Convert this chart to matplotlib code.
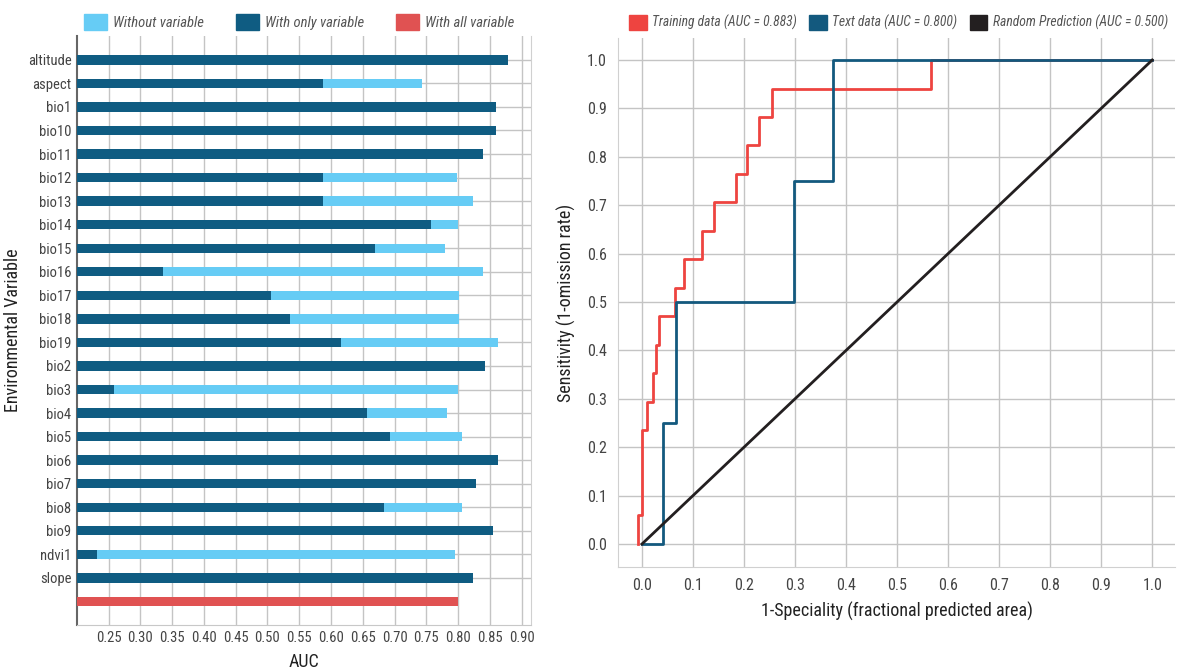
import matplotlib
matplotlib.use('Agg')
import matplotlib.pyplot as plt
from matplotlib import font_manager
from matplotlib.patches import Patch
import numpy as np

# pick a narrow font if there is one
names = set(f.name for f in font_manager.fontManager.ttflist)
family = 'DejaVu Sans'
for cand in ['Liberation Sans Narrow', 'Roboto Condensed', 'Open Sans Condensed', 'DejaVu Sans Condensed']:
    if cand in names:
        family = cand
        break
plt.rcParams['font.family'] = [family, 'DejaVu Sans']

# ---- left panel data (jackknife AUC) ----
variables = ['altitude', 'aspect', 'bio1', 'bio10', 'bio11', 'bio12', 'bio13', 'bio14',
             'bio15', 'bio16', 'bio17', 'bio18', 'bio19', 'bio2', 'bio3', 'bio4', 'bio5',
             'bio6', 'bio7', 'bio8', 'bio9', 'ndvi1', 'slope']
with_only = [0.878, 0.587, 0.859, 0.860, 0.839, 0.587, 0.587, 0.757,
             0.669, 0.335, 0.505, 0.535, 0.615, 0.843, 0.259, 0.656, 0.693,
             0.863, 0.828, 0.683, 0.855, 0.232, 0.824]
# values for altitude, bio1, bio10, bio11, bio2, bio6, bio7, bio9, slope are hidden behind the dark bars
without_var = [0.800, 0.743, 0.800, 0.800, 0.800, 0.798, 0.824, 0.800,
               0.779, 0.839, 0.801, 0.801, 0.863, 0.800, 0.800, 0.783, 0.806,
               0.800, 0.800, 0.806, 0.800, 0.795, 0.800]
all_var = 0.800

# ---- right panel data (ROC curves) ----
train_fpr = [-0.007, -0.007, 0.0, 0.0, 0.0105, 0.0105, 0.022, 0.022, 0.027, 0.027, 0.033, 0.033,
             0.065, 0.065, 0.083, 0.083, 0.118, 0.118, 0.141, 0.141, 0.185, 0.185, 0.206, 0.206,
             0.229, 0.229, 0.255, 0.255, 0.566, 0.566, 1.0]
train_tpr = [0.0, 0.059, 0.059, 0.235, 0.235, 0.294, 0.294, 0.353, 0.353, 0.412, 0.412, 0.471,
             0.471, 0.529, 0.529, 0.588, 0.588, 0.647, 0.647, 0.706, 0.706, 0.765, 0.765, 0.824,
             0.824, 0.882, 0.882, 0.941, 0.941, 1.0, 1.0]
test_fpr = [0.0, 0.041, 0.041, 0.067, 0.067, 0.297, 0.297, 0.375, 0.375, 1.0]
test_tpr = [0.0, 0.0, 0.25, 0.25, 0.5, 0.5, 0.75, 0.75, 1.0, 1.0]
rand_fpr = [0.0, 1.0]
rand_tpr = [0.0, 1.0]

c_light = '#66ccf5'
c_dark = '#0f5c82'
c_red = '#e05252'
c_train = '#ee4440'
c_test = '#13597e'
c_rand = '#231f20'
txt = '#444444'
grid_c = '#c4c4c4'

fig = plt.figure(figsize=(11.78, 6.71), dpi=100)

# left panel
ax = fig.add_axes([0.0654, 0.0686, 0.385, 0.878])
y = np.arange(len(variables))
ax.barh(y, without_var, height=0.4, color=c_light, zorder=2)
ax.barh(y, with_only, height=0.4, color=c_dark, zorder=3)
ax.barh([len(variables)], [all_var], height=0.4, color=c_red, zorder=3)
ax.set_xlim(0.2005, 0.914)
ax.set_ylim(24.0, -1.02)
ax.set_xticks(np.arange(0.25, 0.901, 0.05))
ax.set_xticklabels(['%.2f' % v for v in np.arange(0.25, 0.901, 0.05)])
ax.set_yticks(y)
ax.set_yticklabels(variables)
ax.grid(True, color=grid_c, lw=1, zorder=0)
ax.tick_params(length=0, labelsize=10.5, colors=txt, pad=4)
ax.spines['top'].set_visible(False)
ax.spines['right'].set_color('#d0d0d0')
ax.spines['bottom'].set_color('#c8c8c8')
ax.spines['left'].set_color('#666666')
ax.spines['left'].set_linewidth(1.5)
ax.set_xlabel('AUC', fontsize=13, color='#222222', labelpad=6)
ax.set_ylabel('Environmental Variable', fontsize=13, color='#222222', labelpad=4)
handles = [Patch(color=c_light, label='Without variable'),
           Patch(color=c_dark, label='With only variable'),
           Patch(color=c_red, label='With all variable')]
leg = ax.legend(handles=handles, ncol=3, loc='lower left', bbox_to_anchor=(-0.005, 0.995),
                frameon=False, fontsize=10.5, handlelength=1.6, handleheight=1.3,
                columnspacing=2.2, handletextpad=0.4, borderaxespad=0.2)
for t in leg.get_texts():
    t.set_fontstyle('italic')
    t.set_color('#555555')

# right panel
ax2 = fig.add_axes([0.5246, 0.155, 0.473, 0.788])
ax2.plot(train_fpr, train_tpr, color=c_train, lw=2.0, zorder=3)
ax2.plot(test_fpr, test_tpr, color=c_test, lw=2.0, zorder=3)
ax2.plot(rand_fpr, rand_tpr, color=c_rand, lw=2.0, zorder=4)
ax2.set_xlim(-0.047, 1.045)
ax2.set_ylim(-0.0475, 1.045)
ticks = np.arange(0, 1.01, 0.1)
ax2.set_xticks(ticks)
ax2.set_xticklabels(['%.1f' % v for v in ticks])
ax2.set_yticks(ticks)
ax2.set_yticklabels(['%.1f' % v for v in ticks])
ax2.grid(True, color=grid_c, lw=1, zorder=0)
ax2.tick_params(length=0, labelsize=11.5, colors=txt, pad=8)
ax2.spines['top'].set_visible(False)
ax2.spines['right'].set_visible(False)
ax2.spines['left'].set_color('#d0d0d0')
ax2.spines['bottom'].set_color('#d0d0d0')
ax2.set_xlabel('1-Speciality (fractional predicted area)', fontsize=13, color='#222222', labelpad=6)
ax2.set_ylabel('Sensitivity (1-omission rate)', fontsize=13, color='#222222', labelpad=8)
handles2 = [Patch(color=c_train, label='Training data (AUC = 0.883)'),
            Patch(color=c_test, label='Text data (AUC = 0.800)'),
            Patch(color=c_rand, label='Random Prediction (AUC = 0.500)')]
leg2 = ax2.legend(handles=handles2, ncol=3, loc='lower left', bbox_to_anchor=(0.005, 1.0),
                  frameon=False, fontsize=9.8, handlelength=1.3, handleheight=1.3,
                  columnspacing=0.9, handletextpad=0.4, borderaxespad=0.2)
for t in leg2.get_texts():
    t.set_fontstyle('italic')
    t.set_color('#555555')

fig.savefig('out.png', dpi=100)
